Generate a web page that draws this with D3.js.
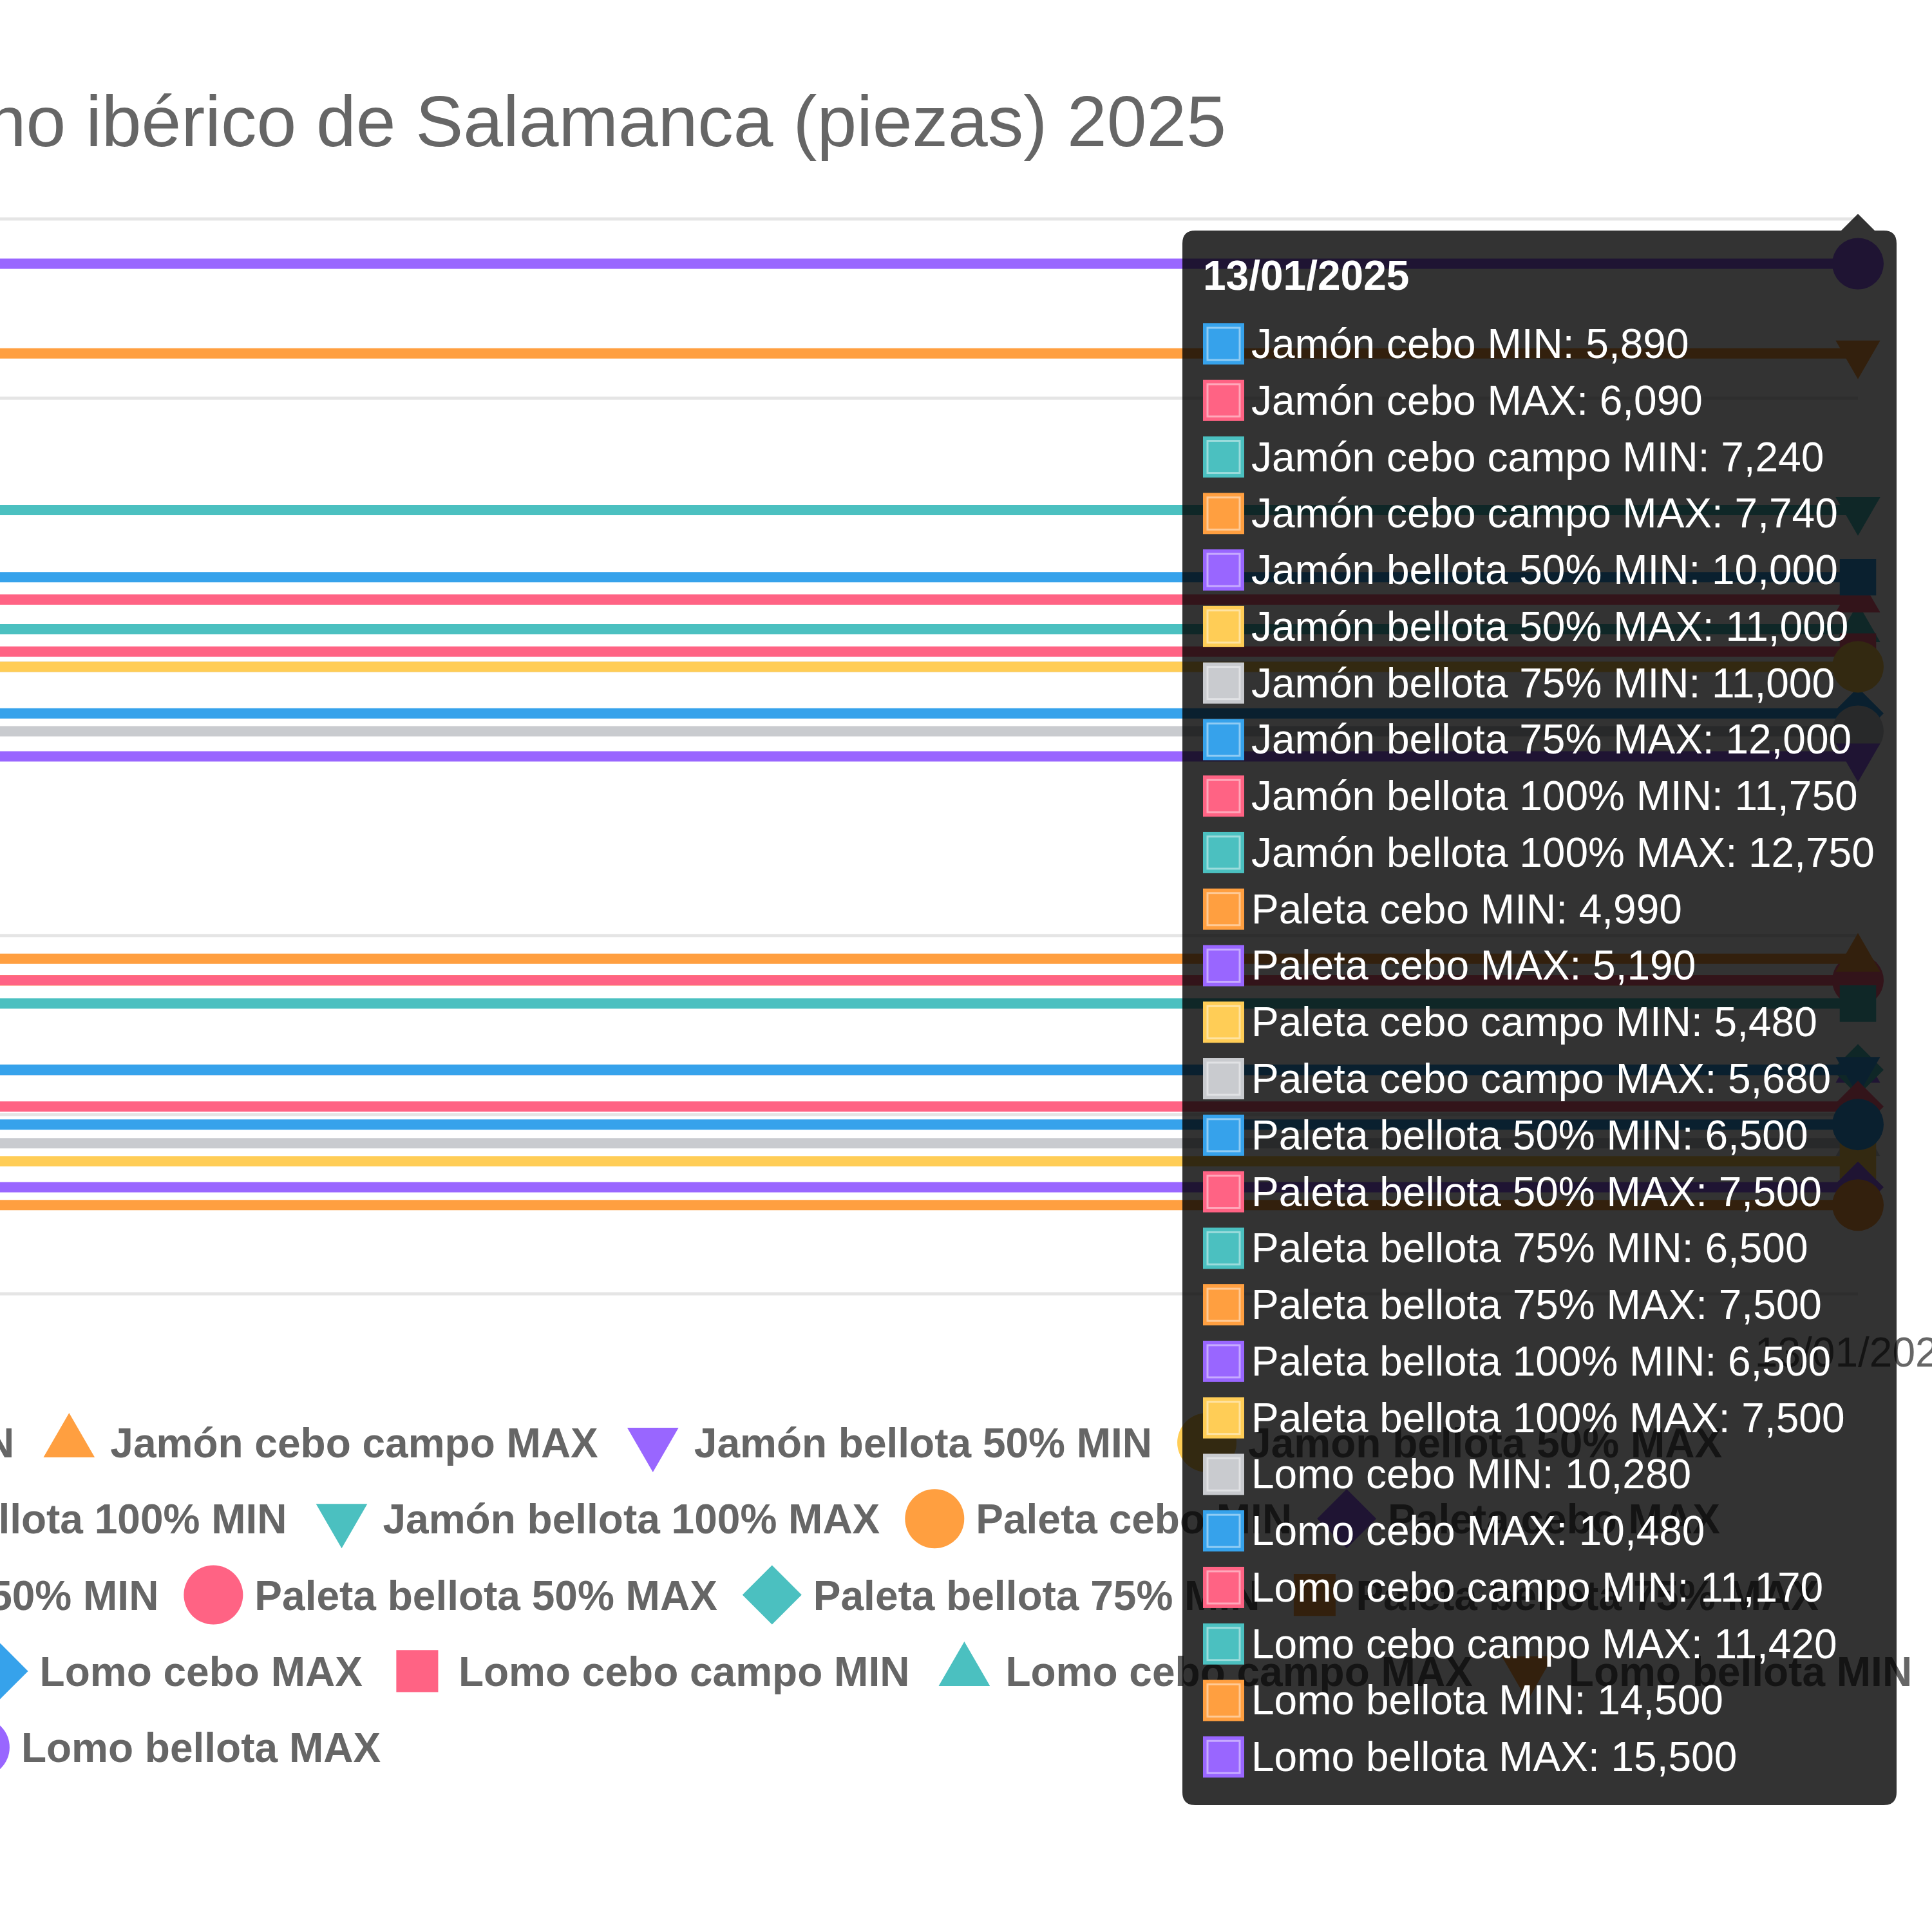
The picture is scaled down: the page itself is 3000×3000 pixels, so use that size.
<!DOCTYPE html>
<html>
<head>
<meta charset="utf-8">
<script src="https://cdn.jsdelivr.net/npm/d3@7"></script>
<style>
  html, body { margin: 0; padding: 0; background: #fff; overflow: hidden; }
  svg { display: block; }
</style>
</head>
<body>
<svg id="chart"></svg>
<script>
// Dates on the x axis (the first one sits off screen, on the left)
var dates = ["06/01/2025", "13/01/2025"];

// One line per product / price bound
var seriesNames = [
  "Jamón cebo MIN", "Jamón cebo MAX",
  "Jamón cebo campo MIN", "Jamón cebo campo MAX",
  "Jamón bellota 50% MIN", "Jamón bellota 50% MAX",
  "Jamón bellota 75% MIN", "Jamón bellota 75% MAX",
  "Jamón bellota 100% MIN", "Jamón bellota 100% MAX",
  "Paleta cebo MIN", "Paleta cebo MAX",
  "Paleta cebo campo MIN", "Paleta cebo campo MAX",
  "Paleta bellota 50% MIN", "Paleta bellota 50% MAX",
  "Paleta bellota 75% MIN", "Paleta bellota 75% MAX",
  "Paleta bellota 100% MIN", "Paleta bellota 100% MAX",
  "Lomo cebo MIN", "Lomo cebo MAX",
  "Lomo cebo campo MIN", "Lomo cebo campo MAX",
  "Lomo bellota MIN", "Lomo bellota MAX"
];

// Prices for each date (lines are flat)
var pricesFirst = [5890, 6090, 7240, 7740, 10000, 11000, 11000, 12000, 11750, 12750,
                   4990, 5190, 5480, 5680, 6500, 7500, 6500, 7500, 6500, 7500,
                   10280, 10480, 11170, 11420, 14500, 15500];
var pricesLast  = [5890, 6090, 7240, 7740, 10000, 11000, 11000, 12000, 11750, 12750,
                   4990, 5190, 5480, 5680, 6500, 7500, 6500, 7500, 6500, 7500,
                   10280, 10480, 11170, 11420, 14500, 15500];

var yDomain = [4000, 16000];
var titleText = "Precios del porcino ibérico de Salamanca (piezas) 2025";
var hoverDate = "13/01/2025";

// Colours and marker shapes cycle like the chart library defaults
var palette = ["#36A2EB", "#FF6384", "#4BC0C0", "#FF9F40", "#9966FF", "#FFCD56", "#C9CBCF"];
var shapes = ["circle", "rectRot", "rect", "triangle", "triangleDown"];

var fontFamily = "'Liberation Sans', Arial, Helvetica, sans-serif";
var width = 3000, height = 3000;
var plot = { left: -2300, right: 2885, top: 340, bottom: 2009 };

var svg = d3.select("#chart")
  .attr("width", width)
  .attr("height", height)
  .style("font-family", fontFamily);

var x = d3.scalePoint().domain(dates).range([plot.left, plot.right]);
var y = d3.scaleLinear().domain(yDomain).range([plot.bottom, plot.top]);

function colour(i) { return palette[i % palette.length]; }
function shape(i) { return shapes[i % shapes.length]; }

// marker path, centred on 0,0
function markerPath(type, r) {
  var p = d3.path(), a, h;
  if (type === "circle") {
    p.arc(0, 0, r, 0, 2 * Math.PI);
  } else if (type === "rectRot") {
    p.moveTo(0, -r); p.lineTo(r, 0); p.lineTo(0, r); p.lineTo(-r, 0);
  } else if (type === "rect") {
    h = r * Math.SQRT1_2;
    p.rect(-h, -h, 2 * h, 2 * h);
  } else {
    var s = type === "triangle" ? 1 : -1;
    p.moveTo(0, -s * r);
    p.lineTo(r * 0.866, s * r * 0.5);
    p.lineTo(-r * 0.866, s * r * 0.5);
  }
  p.closePath();
  return p.toString();
}

// Title
svg.append("text")
  .attr("x", 1904)
  .attr("y", 227)
  .attr("text-anchor", "end")
  .attr("fill", "#666")
  .style("font-size", "111px")
  .text(titleText);

// Horizontal grid
svg.append("g").selectAll("line")
  .data(y.ticks(6))
  .enter().append("line")
  .attr("x1", plot.left)
  .attr("x2", plot.right)
  .attr("y1", function (d) { return y(d); })
  .attr("y2", function (d) { return y(d); })
  .attr("stroke", "rgba(0,0,0,0.1)")
  .attr("stroke-width", 5);

// x tick labels
svg.append("g").selectAll("text")
  .data(dates)
  .enter().append("text")
  .attr("x", function (d) { return x(d); })
  .attr("y", 2122)
  .attr("text-anchor", "middle")
  .attr("fill", "#666")
  .style("font-size", "64px")
  .text(function (d) { return d; });

// Series: lines + points, drawn last-to-first so the first series sits on top
var series = seriesNames.map(function (name, i) {
  return {
    name: name, index: i,
    values: [{ date: dates[0], value: pricesFirst[i] }, { date: dates[1], value: pricesLast[i] }]
  };
}).reverse();

var line = d3.line()
  .x(function (d) { return x(d.date); })
  .y(function (d) { return y(d.value); });

var sg = svg.append("g").selectAll("g")
  .data(series)
  .enter().append("g");

sg.append("path")
  .attr("d", function (d) { return line(d.values); })
  .attr("fill", "none")
  .attr("stroke", function (d) { return colour(d.index); })
  .attr("stroke-width", 16);

sg.selectAll("path.pt")
  .data(function (d) { return d.values.map(function (v) { return { v: v, index: d.index }; }); })
  .enter().append("path")
  .attr("class", "pt")
  .attr("transform", function (d) { return "translate(" + x(d.v.date) + "," + y(d.v.value) + ")"; })
  .attr("d", function (d) { return markerPath(shape(d.index), 40); })
  .attr("fill", function (d) { return colour(d.index); });

// Legend, rows centred like the chart library does it
var legendFont = 64, legendR = 46, legendBox = 64, legendGap = 32, legendPad = 53;
var legendCenter = 264, legendMaxWidth = 5600, legendTop = 2240, legendRowH = 118.3;

var legend = svg.append("g");
var items = legend.selectAll("g")
  .data(seriesNames)
  .enter().append("g");

items.append("path")
  .attr("d", function (d, i) { return markerPath(shape(i), legendR); })
  .attr("transform", "translate(" + legendBox / 2 + ",0)")
  .attr("fill", function (d, i) { return colour(i); });

items.append("text")
  .attr("x", legendBox + legendGap)
  .attr("y", 23)
  .attr("fill", "#666")
  .style("font-size", legendFont + "px")
  .style("font-weight", "bold")
  .text(function (d) { return d; });

var rows = [], row = null;
items.each(function (d, i) {
  var w = legendBox + legendGap + d3.select(this).select("text").node().getComputedTextLength();
  if (!row || row.width + w + legendPad > legendMaxWidth) {
    row = { width: 0, items: [] };
    rows.push(row);
  }
  row.items.push({ node: this, w: w });
  row.width += w + legendPad;
});
rows.forEach(function (r, ri) {
  var cx = legendCenter - (r.width - legendPad) / 2;
  r.items.forEach(function (it) {
    d3.select(it.node).attr("transform", "translate(" + cx + "," + (legendTop + ri * legendRowH) + ")");
    cx += it.w + legendPad;
  });
});

// Tooltip for the hovered date
var tip = { left: 1836, right: 2945, top: 358, bottom: 2803, r: 20, caret: 26 };
var caretX = x(hoverDate);
var tp = d3.path();
tp.moveTo(tip.left + tip.r, tip.top);
tp.lineTo(caretX - tip.caret, tip.top);
tp.lineTo(caretX, tip.top - tip.caret);
tp.lineTo(caretX + tip.caret, tip.top);
tp.lineTo(tip.right - tip.r, tip.top);
tp.quadraticCurveTo(tip.right, tip.top, tip.right, tip.top + tip.r);
tp.lineTo(tip.right, tip.bottom - tip.r);
tp.quadraticCurveTo(tip.right, tip.bottom, tip.right - tip.r, tip.bottom);
tp.lineTo(tip.left + tip.r, tip.bottom);
tp.quadraticCurveTo(tip.left, tip.bottom, tip.left, tip.bottom - tip.r);
tp.lineTo(tip.left, tip.top + tip.r);
tp.quadraticCurveTo(tip.left, tip.top, tip.left + tip.r, tip.top);
tp.closePath();

var tooltip = svg.append("g");
tooltip.append("path")
  .attr("d", tp.toString())
  .attr("fill", "rgba(0,0,0,0.8)");

tooltip.append("text")
  .attr("x", tip.left + 32)
  .attr("y", 450)
  .attr("fill", "#fff")
  .style("font-size", "64px")
  .style("font-weight", "bold")
  .text(hoverDate);

var fmt = d3.format(",");
var hoverIdx = dates.indexOf(hoverDate);
var rowY0 = 532, rowStep = 87.77;
var tipRows = tooltip.selectAll("g.row")
  .data(seriesNames)
  .enter().append("g")
  .attr("class", "row")
  .attr("transform", function (d, i) { return "translate(" + (tip.left + 32) + "," + (rowY0 + i * rowStep) + ")"; });

tipRows.append("rect")
  .attr("x", 0).attr("y", -30)
  .attr("width", 64).attr("height", 64)
  .attr("fill", function (d, i) { return colour(i); });

tipRows.append("rect")
  .attr("x", 7).attr("y", -23)
  .attr("width", 50).attr("height", 50)
  .attr("fill", "none")
  .attr("stroke", "rgba(255,255,255,0.45)")
  .attr("stroke-width", 3);

tipRows.append("text")
  .attr("x", 75)
  .attr("y", 24)
  .attr("fill", "#fff")
  .style("font-size", "64px")
  .text(function (d, i) {
    var v = hoverIdx === 0 ? pricesFirst[i] : pricesLast[i];
    return d + ": " + fmt(v);
  });
</script>
</body>
</html>
